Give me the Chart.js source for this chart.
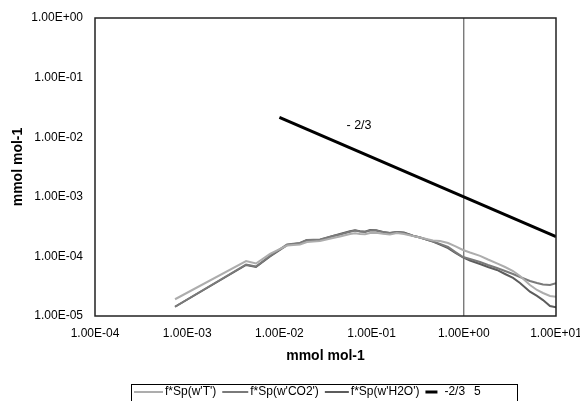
<!DOCTYPE html>
<html>
<head>
<meta charset="utf-8">
<script src="https://cdn.jsdelivr.net/npm/chart.js@4"></script>
<style>
  html, body { margin: 0; padding: 0; background: #fff; }
  #wrap { width: 580px; height: 401px; }
</style>
</head>
<body>
<div id="wrap"><canvas id="specChart" width="580" height="401"></canvas></div>
<script>
// frequency axis (shared by the three spectra)
const freq = [7.38e-4, 4.35e-3, 5.57e-3, 7.91e-3, 0.0121, 0.0167, 0.0199, 0.0275, 0.0381, 0.0454,
  0.0583, 0.0661, 0.0748, 0.0847, 0.0962, 0.1117, 0.133, 0.158, 0.188, 0.2244,
  0.281, 0.335, 0.463, 0.552, 0.675, 0.804, 0.98, 1.167, 1.50, 1.83,
  2.29, 2.80, 3.42, 4.07, 5.22, 6.22, 7.23, 8.61, 10];
const specT = [1.91e-5, 8.37e-5, 7.60e-5, 1.10e-4, 1.52e-4, 1.58e-4, 1.74e-4, 1.81e-4, 2.04e-4, 2.16e-4,
  2.38e-4, 2.45e-4, 2.38e-4, 2.36e-4, 2.47e-4, 2.50e-4, 2.40e-4, 2.33e-4, 2.47e-4, 2.38e-4,
  2.20e-4, 2.08e-4, 1.85e-4, 1.81e-4, 1.68e-4, 1.49e-4, 1.28e-4, 1.16e-4, 1.02e-4, 8.87e-5,
  7.66e-5, 6.64e-5, 5.69e-5, 4.69e-5, 3.31e-5, 2.73e-5, 2.43e-5, 2.17e-5, 2.11e-5];
const specCO2 = [1.43e-5, 7.31e-5, 6.77e-5, 1.02e-4, 1.58e-4, 1.68e-4, 1.88e-4, 1.92e-4, 2.20e-4, 2.33e-4,
  2.60e-4, 2.72e-4, 2.62e-4, 2.58e-4, 2.72e-4, 2.72e-4, 2.55e-4, 2.47e-4, 2.57e-4, 2.47e-4,
  2.22e-4, 2.08e-4, 1.77e-4, 1.62e-4, 1.44e-4, 1.19e-4, 9.77e-5, 9.04e-5, 8.05e-5, 7.18e-5,
  6.38e-5, 5.69e-5, 5.07e-5, 4.51e-5, 3.87e-5, 3.58e-5, 3.38e-5, 3.31e-5, 3.54e-5];
const specH2O = [1.43e-5, 7.18e-5, 6.64e-5, 9.96e-5, 1.55e-4, 1.66e-4, 1.88e-4, 1.88e-4, 2.20e-4, 2.38e-4,
  2.65e-4, 2.75e-4, 2.65e-4, 2.60e-4, 2.77e-4, 2.75e-4, 2.58e-4, 2.47e-4, 2.57e-4, 2.52e-4,
  2.22e-4, 2.08e-4, 1.77e-4, 1.58e-4, 1.38e-4, 1.16e-4, 9.59e-5, 8.53e-5, 7.45e-5, 6.64e-5,
  5.92e-5, 5.07e-5, 4.35e-5, 3.58e-5, 2.56e-5, 2.17e-5, 1.85e-5, 1.47e-5, 1.40e-5];
// -2/3 slope reference line
const slopeX = [0.01, 10];
const slopeY = [0.0215, 2.15e-4];
// vertical marker at x = 1
const markX = [1, 1];
const markY = [1e-5, 1];

const xTicks = [1e-4, 1e-3, 1e-2, 1e-1, 1e0, 1e1];
const yTicks = [1e-5, 1e-4, 1e-3, 1e-2, 1e-1, 1e0];

const FONT = "'Liberation Sans', Arial, sans-serif";

function sci(v) {
  const e = Math.round(Math.log10(v));
  const m = v / Math.pow(10, e);
  const es = (e < 0 ? '-' : '+') + String(Math.abs(e)).padStart(2, '0');
  return m.toFixed(2) + 'E' + es;
}
const pts = (xs, ys) => xs.map((x, i) => ({ x: x, y: ys[i] }));

const data = {
  datasets: [
    { label: "f*Sp(w'T')", data: pts(freq, specT), borderColor: '#adadad', borderWidth: 2 },
    { label: "f*Sp(w'CO2')", data: pts(freq, specCO2), borderColor: '#7a7a7a', borderWidth: 2 },
    { label: "f*Sp(w'H2O')", data: pts(freq, specH2O), borderColor: '#5c5c5c', borderWidth: 2 },
    { label: '-2/3', data: pts(slopeX, slopeY), borderColor: '#000', borderWidth: 3 },
    { label: '5', data: pts(markX, markY), borderColor: '#444', borderWidth: 1, noLegendLine: true }
  ]
};

// frame box, slope text, and the boxed legend at the bottom
const extras = {
  id: 'extras',
  afterDraw(chart) {
    const ctx = chart.ctx;
    const a = chart.chartArea;
    ctx.save();
    ctx.strokeStyle = '#222';
    ctx.lineWidth = 1.5;
    ctx.strokeRect(a.left, a.top, a.right - a.left, a.bottom - a.top);

    ctx.fillStyle = '#000';
    ctx.font = '12.5px ' + FONT;
    ctx.textAlign = 'center';
    ctx.textBaseline = 'middle';
    ctx.fillText('- 2/3', 359, 126);

    // legend
    ctx.font = '12px ' + FONT;
    ctx.textAlign = 'left';
    const y = 392;
    let cx = 134;
    const lens = [29, 26, 24, 12, 0];
    chart.data.datasets.forEach((ds, i) => {
      if (!ds.noLegendLine) {
        ctx.strokeStyle = ds.borderColor;
        ctx.lineWidth = ds.borderWidth;
        ctx.beginPath();
        ctx.moveTo(cx, y);
        ctx.lineTo(cx + lens[i], y);
        ctx.stroke();
        cx += lens[i] + (i === 3 ? 7 : 2);
      }
      ctx.fillStyle = '#000';
      ctx.fillText(ds.label, cx, y);
      cx += ctx.measureText(ds.label).width + (i === 3 ? 9 : 6);
    });
    ctx.strokeStyle = '#000';
    ctx.lineWidth = 1;
    ctx.strokeRect(131.5, 384.5, 386, 20);
    ctx.restore();
  }
};

const config = {
  type: 'scatter',
  data: data,
  options: {
    responsive: false,
    animation: false,
    showLine: true,
    elements: { point: { radius: 0 }, line: { tension: 0 } },
    layout: { padding: { left: 0, right: 24, top: 18, bottom: 0 } },
    plugins: {
      legend: { display: false },
      tooltip: { enabled: false }
    },
    scales: {
      x: {
        type: 'logarithmic',
        min: 1e-4, max: 10,
        afterBuildTicks: s => { s.ticks = xTicks.map(v => ({ value: v })); },
        afterFit: s => { s.height = 85; s.paddingLeft = 0; s.paddingRight = 0; },
        grid: { display: false, drawTicks: false },
        border: { display: false },
        ticks: { padding: 10, color: '#000', font: { family: FONT, size: 12 }, callback: v => sci(v), maxRotation: 0, autoSkip: false },
        title: { display: true, text: 'mmol mol-1', color: '#000', font: { family: FONT, size: 14, weight: 'bold' }, padding: { top: 0, bottom: 36 } }
      },
      y: {
        type: 'logarithmic',
        min: 1e-5, max: 1,
        afterBuildTicks: s => { s.ticks = yTicks.map(v => ({ value: v })); },
        afterFit: s => { s.width = 95; s.paddingTop = 0; s.paddingBottom = 0; },
        grid: { display: false, drawTicks: false },
        border: { display: false },
        ticks: { padding: 12, color: '#000', font: { family: FONT, size: 12 }, callback: v => sci(v), autoSkip: false },
        title: { display: true, text: 'mmol mol-1', color: '#000', font: { family: FONT, size: 14, weight: 'bold' }, padding: { top: 10, bottom: 0 } }
      }
    }
  },
  plugins: [extras]
};
new Chart(document.getElementById('specChart'), config);
</script>
</body>
</html>
